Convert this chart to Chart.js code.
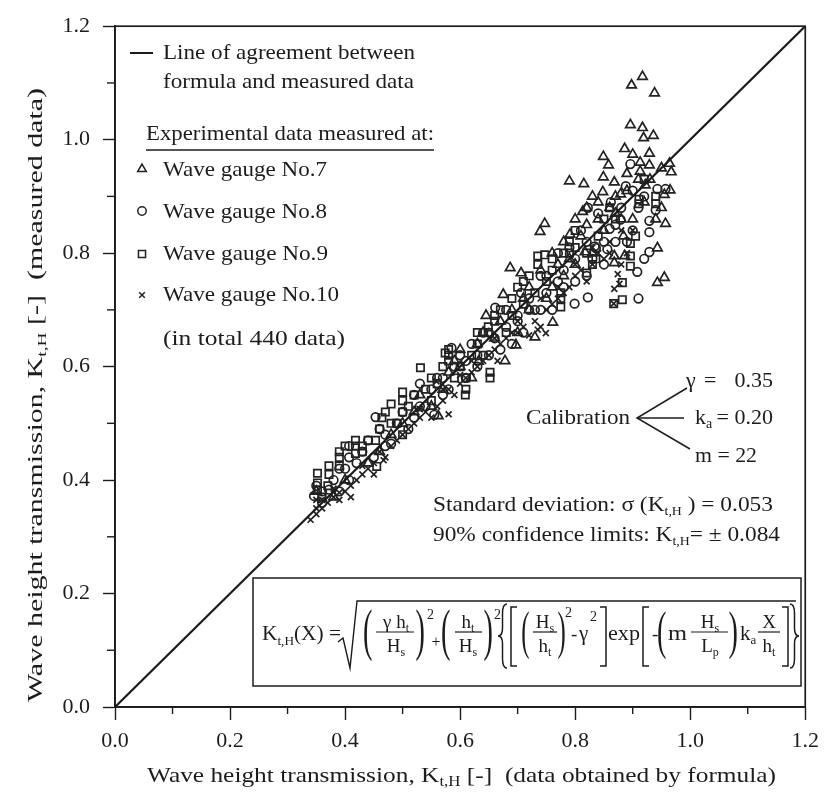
<!DOCTYPE html>
<html>
<head>
<meta charset="utf-8">
<script src="https://cdn.jsdelivr.net/npm/chart.js@4.4.1/dist/chart.umd.min.js"></script>
<style>
  html, body { margin: 0; padding: 0; background: #fff; }
  canvas { display: block; }
</style>
</head>
<body>
<canvas id="kt" width="827" height="794"></canvas>
<script>
// measured vs. formula K_t,H as [formula, measured]
const gauge7 = [
  [0.35,0.38],[0.38,0.37],[0.40,0.40],[0.44,0.43],[0.46,0.45],[0.48,0.48],[0.50,0.50],[0.52,0.52],
  [0.53,0.55],[0.55,0.53],[0.562,0.513],[0.57,0.56],[0.58,0.59],[0.60,0.60],[0.60,0.63],[0.62,0.58],
  [0.632,0.609],[0.64,0.66],[0.645,0.69],[0.66,0.65],[0.675,0.727],[0.678,0.61],[0.687,0.774],[0.69,0.70],
  [0.697,0.638],[0.70,0.66],[0.706,0.765],[0.72,0.70],[0.72,0.74],[0.73,0.652],[0.739,0.838],[0.747,0.852],
  [0.75,0.72],[0.76,0.74],[0.761,0.678],[0.77,0.78],[0.78,0.76],[0.78,0.82],[0.79,0.927],[0.791,0.833],
  [0.80,0.78],[0.80,0.86],[0.813,0.873],[0.815,0.922],[0.817,0.802],[0.82,0.88],[0.83,0.80],[0.83,0.90],
  [0.84,0.89],[0.848,0.908],[0.849,0.970],[0.849,0.934],[0.85,0.84],[0.858,0.955],[0.868,0.925],[0.868,0.795],
  [0.868,0.783],[0.87,0.90],[0.879,0.904],[0.88,0.86],[0.884,0.830],[0.886,0.984],[0.886,0.795],[0.89,0.94],
  [0.896,1.026],[0.898,1.096],[0.90,0.974],[0.90,0.86],[0.91,0.93],[0.913,0.960],[0.913,0.944],[0.917,1.111],
  [0.917,1.021],[0.919,1.003],[0.922,0.920],[0.929,0.976],[0.929,0.955],[0.936,1.007],[0.938,1.082],[0.94,0.86],
  [0.943,0.809],[0.943,0.748],[0.95,0.88],[0.955,0.903],[0.955,0.757],[0.957,0.852],[0.964,0.958],[0.965,0.911],
  [0.967,0.943],[0.59,0.61],[0.63,0.64],[0.67,0.68],[0.71,0.72],[0.74,0.77],[0.76,0.80],[0.79,0.79],
  [0.81,0.83],[0.82,0.85],[0.84,0.86],[0.86,0.88],[0.87,0.87],[0.89,0.91],[0.92,0.89],[0.93,0.93],
  [0.95,0.95]
];
const gauge8 = [
  [0.346,0.372],[0.35,0.39],[0.36,0.36],[0.372,0.383],[0.38,0.40],[0.39,0.38],[0.39,0.42],[0.407,0.40],
  [0.407,0.44],[0.407,0.46],[0.42,0.43],[0.43,0.45],[0.44,0.47],[0.45,0.44],[0.453,0.511],[0.46,0.49],
  [0.47,0.48],[0.48,0.464],[0.49,0.50],[0.50,0.52],[0.51,0.49],[0.52,0.51],[0.52,0.55],[0.53,0.57],
  [0.54,0.53],[0.55,0.56],[0.555,0.515],[0.56,0.58],[0.57,0.55],[0.58,0.56],[0.585,0.633],[0.59,0.60],
  [0.60,0.62],[0.61,0.58],[0.62,0.64],[0.63,0.60],[0.63,0.62],[0.64,0.66],[0.65,0.62],[0.66,0.65],
  [0.661,0.704],[0.67,0.63],[0.68,0.67],[0.69,0.64],[0.70,0.68],[0.70,0.69],[0.706,0.730],[0.71,0.66],
  [0.72,0.72],[0.73,0.70],[0.74,0.70],[0.74,0.76],[0.75,0.73],[0.76,0.70],[0.77,0.80],[0.78,0.74],
  [0.78,0.77],[0.79,0.81],[0.799,0.711],[0.80,0.75],[0.81,0.84],[0.82,0.76],[0.822,0.722],[0.822,0.880],
  [0.83,0.79],[0.834,0.812],[0.836,0.809],[0.84,0.87],[0.85,0.78],[0.856,0.807],[0.86,0.843],[0.862,0.890],
  [0.87,0.82],[0.87,0.85],[0.879,0.859],[0.888,0.918],[0.896,0.957],[0.90,0.84],[0.90,0.91],[0.908,0.767],
  [0.91,0.72],[0.91,0.88],[0.92,0.79],[0.929,0.857],[0.929,0.837],[0.929,0.802],[0.94,0.876],[0.943,0.913],
  [0.957,0.913],[0.36,0.38],[0.40,0.42],[0.47,0.46],[0.53,0.53],[0.57,0.58],[0.61,0.61],[0.65,0.66],
  [0.68,0.70],[0.72,0.70],[0.75,0.76],[0.77,0.75],[0.80,0.79],[0.82,0.82],[0.85,0.82],[0.88,0.88],
  [0.89,0.82],[0.92,0.90]
];
const gauge9 = [
  [0.352,0.383],[0.352,0.395],[0.352,0.412],[0.36,0.37],[0.372,0.410],[0.372,0.425],[0.39,0.425],[0.39,0.44],
  [0.39,0.45],[0.40,0.46],[0.418,0.447],[0.418,0.46],[0.418,0.47],[0.43,0.45],[0.44,0.47],[0.453,0.47],
  [0.455,0.424],[0.46,0.49],[0.464,0.51],[0.47,0.52],[0.48,0.534],[0.49,0.50],[0.50,0.48],[0.50,0.52],
  [0.50,0.54],[0.50,0.555],[0.51,0.53],[0.531,0.598],[0.54,0.56],[0.55,0.54],[0.56,0.57],[0.574,0.624],
  [0.58,0.61],[0.58,0.62],[0.58,0.63],[0.59,0.58],[0.60,0.60],[0.609,0.55],[0.61,0.56],[0.61,0.58],
  [0.62,0.62],[0.63,0.64],[0.64,0.62],[0.649,0.66],[0.649,0.67],[0.652,0.58],[0.652,0.59],[0.66,0.68],
  [0.67,0.70],[0.68,0.66],[0.69,0.72],[0.70,0.74],[0.71,0.71],[0.72,0.76],[0.735,0.78],[0.735,0.795],
  [0.747,0.797],[0.75,0.75],[0.76,0.77],[0.775,0.705],[0.775,0.72],[0.775,0.73],[0.78,0.80],[0.79,0.80],
  [0.79,0.82],[0.80,0.84],[0.82,0.765],[0.83,0.78],[0.836,0.79],[0.85,0.86],[0.86,0.88],[0.867,0.711],
  [0.882,0.748],[0.882,0.718],[0.896,0.777],[0.896,0.795],[0.896,0.817],[0.905,0.83],[0.911,0.895],[0.911,0.887],
  [0.94,0.887],[0.94,0.90],[0.37,0.39],[0.43,0.46],[0.48,0.50],[0.52,0.55],[0.55,0.58],[0.57,0.60],
  [0.63,0.66],[0.66,0.69],[0.69,0.69],[0.71,0.75],[0.73,0.73],[0.76,0.79],[0.80,0.81],[0.82,0.80],
  [0.84,0.83],[0.87,0.86],[0.92,0.93]
];
const gauge10 = [
  [0.34,0.33],[0.35,0.34],[0.35,0.35],[0.35,0.365],[0.36,0.35],[0.37,0.36],[0.38,0.37],[0.39,0.365],
  [0.39,0.378],[0.40,0.38],[0.41,0.37],[0.41,0.39],[0.42,0.40],[0.43,0.41],[0.44,0.42],[0.45,0.41],
  [0.45,0.43],[0.467,0.435],[0.47,0.44],[0.48,0.46],[0.49,0.47],[0.50,0.48],[0.51,0.49],[0.52,0.50],
  [0.53,0.51],[0.54,0.52],[0.55,0.51],[0.559,0.574],[0.56,0.53],[0.57,0.54],[0.58,0.516],[0.58,0.56],
  [0.59,0.55],[0.60,0.57],[0.60,0.585],[0.61,0.58],[0.62,0.59],[0.63,0.60],[0.64,0.61],[0.65,0.62],
  [0.66,0.63],[0.665,0.61],[0.67,0.64],[0.68,0.65],[0.69,0.66],[0.70,0.66],[0.71,0.67],[0.72,0.655],
  [0.73,0.68],[0.735,0.665],[0.74,0.67],[0.749,0.659],[0.75,0.70],[0.76,0.71],[0.77,0.72],[0.78,0.73],
  [0.79,0.74],[0.80,0.76],[0.81,0.77],[0.82,0.75],[0.83,0.78],[0.84,0.80],[0.85,0.79],[0.86,0.82],
  [0.867,0.711],[0.868,0.737],[0.874,0.763],[0.877,0.746],[0.88,0.78],[0.89,0.80],[0.90,0.84],[0.36,0.365],
  [0.38,0.385],[0.43,0.425],[0.46,0.45],[0.53,0.525],[0.57,0.56],[0.62,0.61],[0.66,0.65],[0.70,0.68],
  [0.74,0.72],[0.77,0.74],[0.80,0.78],[0.83,0.81],[0.86,0.80],[0.88,0.84]
];
const agreementX = [0, 1.2];
const agreementY = [0, 1.2];
const axisMin = 0, axisMax = 1.2, tickStep = 0.1;

const SERIF = '"Liberation Serif", "Times New Roman", serif';
const INK = '#1c1c1c';
const MARK = '#222';

const toXY = arr => arr.map(p => ({ x: p[0], y: p[1] }));

function setFont(ctx, px) { ctx.font = px + 'px ' + SERIF; }

// draw a run of [text, size, dy] pieces from x on baseline y, optionally stretched to width fitW
function runs(ctx, list, x, y, fitW) {
    let w = 0;
    list.forEach(r => { setFont(ctx, r[1]); w += ctx.measureText(r[0]).width; });
    const k = fitW ? fitW / w : 1;
    ctx.save();
    ctx.translate(x, y);
    ctx.scale(k, 1);
    let cx = 0;
    list.forEach(r => {
        setFont(ctx, r[1]);
        ctx.fillText(r[0], cx, r[2] || 0);
        cx += ctx.measureText(r[0]).width;
    });
    ctx.restore();
    return x + w * k;
}

function runsWidth(ctx, list) {
    let w = 0;
    list.forEach(r => { setFont(ctx, r[1]); w += ctx.measureText(r[0]).width; });
    return w;
}

// parenthesis glyph stretched into a box
function glyph(ctx, ch, x0, y0, x1, y1) {
    setFont(ctx, 60);
    const m = ctx.measureText(ch);
    const bw = m.actualBoundingBoxLeft + m.actualBoundingBoxRight;
    const bh = m.actualBoundingBoxAscent + m.actualBoundingBoxDescent;
    ctx.save();
    ctx.translate(x0, y0);
    ctx.scale((x1 - x0) / bw, (y1 - y0) / bh);
    ctx.fillText(ch, m.actualBoundingBoxLeft, m.actualBoundingBoxAscent);
    ctx.restore();
}

function square(ctx, x0, y0, x1, y1, open) {
    const xs = open ? [x1, x0] : [x0, x1];
    line(ctx, [[xs[0], y0], [xs[1], y0], [xs[1], y1], [xs[0], y1]], 1.5);
}

function brace(ctx, x0, y0, x1, y1, open) {
    const h = y1 - y0, m = (y0 + y1) / 2, xm = (x0 + x1) / 2;
    const tip = open ? x0 : x1, back = open ? x1 : x0;
    ctx.lineWidth = 1.5;
    ctx.beginPath();
    ctx.moveTo(back, y0);
    ctx.quadraticCurveTo(xm, y0, xm, y0 + h * 0.15);
    ctx.lineTo(xm, m - h * 0.12);
    ctx.quadraticCurveTo(xm, m, tip, m);
    ctx.quadraticCurveTo(xm, m, xm, m + h * 0.12);
    ctx.lineTo(xm, y1 - h * 0.15);
    ctx.quadraticCurveTo(xm, y1, back, y1);
    ctx.stroke();
}

function frac(ctx, num, den, cx, bx0, bx1) {
    runs(ctx, num, cx - runsWidth(ctx, num) / 2, 628);
    runs(ctx, den, cx - runsWidth(ctx, den) / 2, 652);
    line(ctx, [[bx0, 632], [bx1, 632]], 1.2);
}

function line(ctx, pts, w) {
    ctx.lineWidth = w;
    ctx.beginPath();
    ctx.moveTo(pts[0][0], pts[0][1]);
    for (let i = 1; i < pts.length; i++) ctx.lineTo(pts[i][0], pts[i][1]);
    ctx.stroke();
}

const figureText = {
    id: 'figureText',
    afterDraw(chart) {
        const ctx = chart.ctx;
        const a = chart.chartArea;
        const sx = chart.scales.x, sy = chart.scales.y;
        ctx.save();
        ctx.fillStyle = INK;
        ctx.strokeStyle = INK;
        ctx.textAlign = 'left';
        ctx.textBaseline = 'alphabetic';

        // frame
        ctx.lineWidth = 1.7;
        ctx.strokeRect(a.left, a.top, a.right - a.left, a.bottom - a.top);

        // minor ticks
        for (let i = 1; i < 12; i += 2) {
            const v = i * tickStep;
            const px = sx.getPixelForValue(v);
            line(ctx, [[px, a.bottom], [px, a.bottom + 7]], 1.4);
            const py = sy.getPixelForValue(v);
            line(ctx, [[a.left, py], [a.left - 8, py]], 1.4);
        }

        // axis titles
        runs(ctx, [['Wave height transmission, K', 21], ['t,H', 14, 4], [' [-]  (data obtained by formula)', 21]], 147, 782, 629);
        ctx.save();
        ctx.translate(42, 702);
        ctx.rotate(-Math.PI / 2);
        runs(ctx, [['Wave height transmission, K', 20], ['t,H', 13, 4], [' [-]  (measured data)', 20]], 0, 0, 614);
        ctx.restore();

        // legend block
        line(ctx, [[130, 53], [153, 53]], 2);
        runs(ctx, [['Line of agreement between', 22]], 163, 59, 252);
        runs(ctx, [['formula and measured data', 22]], 163, 88, 251);
        runs(ctx, [['Experimental data measured at:', 22]], 146, 140, 288);
        line(ctx, [[146, 150], [434, 150]], 1.3);
        const keys = [
            ['triangle', 5, 169, 'Wave gauge No.7', 176, 164],
            ['circle', 4.2, 211, 'Wave gauge No.8', 218, 164],
            ['rect', 5, 254, 'Wave gauge No.9', 260, 165],
            ['crossRot', 4, 295, 'Wave gauge No.10', 301, 176]
        ];
        keys.forEach(k => {
            ctx.lineWidth = 1.5;
            ctx.strokeStyle = MARK;
            ctx.fillStyle = 'rgba(0,0,0,0)';
            Chart.helpers.drawPoint(ctx, { pointStyle: k[0], radius: k[1], rotation: 0, borderWidth: 1.5 }, 142, k[2]);
            ctx.fillStyle = INK;
            ctx.strokeStyle = INK;
            runs(ctx, [[k[3], 22]], 163, k[4], k[5]);
        });
        runs(ctx, [['(in total 440 data)', 22]], 163, 345, 182);

        // calibration
        runs(ctx, [['γ', 22]], 686, 387);
        runs(ctx, [['=', 22]], 704, 387);
        ctx.textAlign = 'right';
        setFont(ctx, 22);
        ctx.fillText('0.35', 773, 387);
        ctx.fillText('= 0.20', 773, 424);
        ctx.textAlign = 'left';
        runs(ctx, [['Calibration', 22]], 526, 424, 104);
        runs(ctx, [['k', 22], ['a', 14, 4]], 695, 424);
        runs(ctx, [['m = 22', 22]], 695, 462, 62);
        line(ctx, [[687, 388], [637, 418], [690, 449]], 1.5);
        line(ctx, [[637, 418], [684, 418]], 1.5);
        runs(ctx, [['Standard deviation: σ (K', 22], ['t,H', 13, 4], [' ) = 0.053', 22]], 433, 511, 340);
        runs(ctx, [['90% confidence limits: K', 22], ['t,H', 13, 4], ['= ± 0.084', 22]], 433, 541, 347);

        // formula box
        ctx.lineWidth = 1.5;
        ctx.strokeRect(253, 578, 548, 108);
        const B = 640;
        runs(ctx, [['K', 21], ['t,H', 13, 5], ['(X) =', 21]], 262, B, 79);
        line(ctx, [[338, 642], [343, 638], [350, 668], [357, 601], [796, 601]], 1.4);
        glyph(ctx, '(', 364, 609, 372, 661);
        frac(ctx, [['γ h', 19], ['t', 12, 4]], [['H', 19], ['s', 12, 4]], 396, 376, 414);
        glyph(ctx, ')', 416, 609, 424, 661);
        runs(ctx, [['2', 14]], 427, 619);
        setFont(ctx, 16);
        ctx.textAlign = 'center';
        ctx.fillText('+', 436, 647);
        ctx.textAlign = 'left';
        glyph(ctx, '(', 442, 609, 450, 661);
        frac(ctx, [['h', 19], ['t', 12, 4]], [['H', 19], ['s', 12, 4]], 468, 455, 482);
        glyph(ctx, ')', 484, 609, 492, 661);
        runs(ctx, [['2', 14]], 494, 619);
        brace(ctx, 498, 604, 507, 668, true);
        square(ctx, 511, 607, 517, 666, true);
        glyph(ctx, '(', 522, 611, 529, 660);
        frac(ctx, [['H', 19], ['s', 12, 4]], [['h', 19], ['t', 12, 4]], 545, 533, 557);
        glyph(ctx, ')', 558, 611, 565, 660);
        runs(ctx, [['2', 14]], 565, 617);
        runs(ctx, [['-', 19]], 571, B);
        runs(ctx, [['γ', 21]], 579, B);
        runs(ctx, [['2', 14]], 590, 621);
        square(ctx, 600, 607, 606, 666, false);
        runs(ctx, [['exp', 21]], 608, B, 32);
        square(ctx, 643, 607, 649, 666, true);
        runs(ctx, [['-', 19]], 652, B);
        glyph(ctx, '(', 658, 611, 666, 660);
        runs(ctx, [['m', 21]], 668, B, 19);
        frac(ctx, [['H', 19], ['s', 12, 4]], [['L', 19], ['p', 12, 4]], 710, 691, 728);
        glyph(ctx, ')', 729, 611, 737, 660);
        runs(ctx, [['k', 21], ['a', 13, 4]], 740, B);
        frac(ctx, [['X', 19]], [['h', 19], ['t', 12, 4]], 769, 758, 780);
        square(ctx, 782, 607, 788, 666, false);
        brace(ctx, 790, 604, 799, 668, false);

        ctx.restore();
    }
};

const markerStyle = (data, style, radius, label) => ({
    label: label,
    data: toXY(data),
    pointStyle: style,
    pointRadius: radius,
    pointBorderWidth: 1.7,
    pointBorderColor: MARK,
    pointBackgroundColor: 'rgba(0,0,0,0)',
    showLine: false
});

const tickColor = ctx => (ctx.index % 2 === 0 ? INK : 'rgba(0,0,0,0)');
const tickLabel = (v, i) => (i % 2 === 0 ? Number(v).toFixed(1) : '');

new Chart(document.getElementById('kt'), {
    type: 'scatter',
    data: {
        datasets: [
            {
                label: 'Line of agreement',
                data: agreementX.map((x, i) => ({ x: x, y: agreementY[i] })),
                showLine: true,
                borderColor: INK,
                borderWidth: 2.2,
                pointRadius: 0
            },
            markerStyle(gauge7, 'triangle', 5.5, 'Wave gauge No.7'),
            markerStyle(gauge8, 'circle', 4.3, 'Wave gauge No.8'),
            markerStyle(gauge9, 'rect', 5.2, 'Wave gauge No.9'),
            markerStyle(gauge10, 'crossRot', 4.2, 'Wave gauge No.10')
        ]
    },
    options: {
        responsive: false,
        animation: false,
        devicePixelRatio: 1,
        events: [],
        layout: { padding: { top: 17, right: 18, left: 0, bottom: 0 } },
        plugins: {
            legend: { display: false },
            tooltip: { enabled: false }
        },
        scales: {
            x: {
                type: 'linear',
                min: axisMin,
                max: axisMax,
                afterFit: s => { s.height = 87; },
                border: { display: true, color: INK, width: 1.7 },
                grid: { drawOnChartArea: false, tickLength: 13, tickWidth: 1.4, tickColor: tickColor },
                ticks: {
                    stepSize: tickStep, autoSkip: false, maxRotation: 0, padding: 8,
                    color: INK, font: { family: SERIF, size: 22 }, callback: tickLabel
                }
            },
            y: {
                type: 'linear',
                min: axisMin,
                max: axisMax,
                afterFit: s => { s.width = 115; },
                border: { display: true, color: INK, width: 1.7 },
                grid: { drawOnChartArea: false, tickLength: 12, tickWidth: 1.4, tickColor: tickColor },
                ticks: {
                    stepSize: tickStep, autoSkip: false, padding: 13,
                    color: INK, font: { family: SERIF, size: 22 }, callback: tickLabel
                }
            }
        }
    },
    plugins: [figureText]
});
</script>
</body>
</html>
